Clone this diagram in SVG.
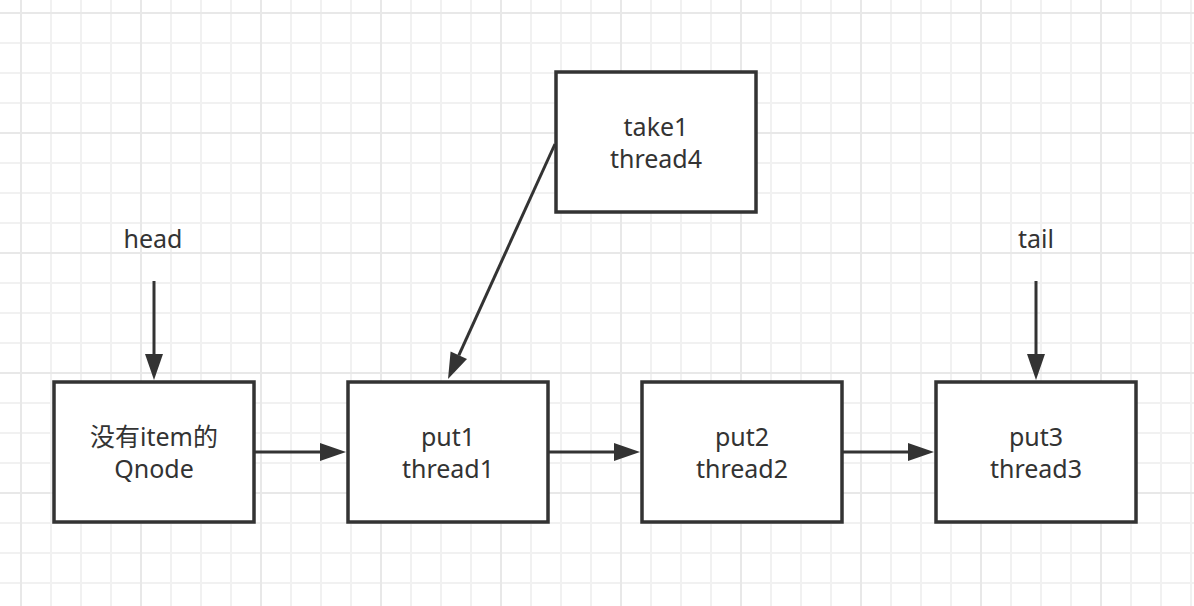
<svg xmlns="http://www.w3.org/2000/svg" width="1194" height="606" viewBox="0 0 1194 606">
<style>
.box{fill:#fff;stroke:#333;stroke-width:3.5}
.lbl{font-family:"Noto Sans","Noto Sans CJK SC",sans-serif;font-size:25px;fill:#333;text-anchor:middle}
.edge{stroke:#333;stroke-width:3;fill:none;marker-end:url(#ah)}
</style>
<defs>
<pattern id="gmin" x="20" y="12" width="30" height="30" patternUnits="userSpaceOnUse"><path d="M0 1H30M1 0V30" stroke="#f1f1f1" stroke-width="2" fill="none"/></pattern>
<pattern id="gmaj" x="20" y="12" width="120" height="120" patternUnits="userSpaceOnUse"><path d="M0 1H120M1 0V120" stroke="#e8e8e8" stroke-width="2" fill="none"/></pattern>
<marker id="ah" markerUnits="userSpaceOnUse" markerWidth="26" markerHeight="18" refX="0" refY="9" orient="auto" overflow="visible"><path d="M0,0 L26,9 L0,18 z" fill="#333"/></marker>
</defs>
<rect width="1194" height="606" fill="#fff"/>
<rect width="1194" height="606" fill="url(#gmin)"/>
<rect width="1194" height="606" fill="url(#gmaj)"/>
<g id="connectors">
<line class="edge" x1="255" y1="452" x2="320" y2="452"/>
<line class="edge" x1="549" y1="452" x2="614" y2="452"/>
<line class="edge" x1="843" y1="452" x2="908" y2="452"/>
<line class="edge" x1="154" y1="281" x2="154" y2="354"/>
<line class="edge" x1="1036" y1="281" x2="1036" y2="354"/>
<line class="edge" x1="555" y1="144" x2="458.8" y2="355.3"/>
</g>
<g id="head"><text class="lbl" x="153" y="248">head</text></g>
<g id="tail"><text class="lbl" x="1036" y="248">tail</text></g>
<g id="take1"><rect class="box" x="556" y="72" width="200" height="140"/><text class="lbl" x="656" y="136">take1</text><text class="lbl" x="656" y="168">thread4</text></g>
<g id="qnode"><rect class="box" x="54" y="382" width="200" height="140"/><text class="lbl" x="154" y="446">没有item的</text><text class="lbl" x="154" y="478">Qnode</text></g>
<g id="put1"><rect class="box" x="348" y="382" width="200" height="140"/><text class="lbl" x="448" y="446">put1</text><text class="lbl" x="448" y="478">thread1</text></g>
<g id="put2"><rect class="box" x="642" y="382" width="200" height="140"/><text class="lbl" x="742" y="446">put2</text><text class="lbl" x="742" y="478">thread2</text></g>
<g id="put3"><rect class="box" x="936" y="382" width="200" height="140"/><text class="lbl" x="1036" y="446">put3</text><text class="lbl" x="1036" y="478">thread3</text></g>
</svg>
